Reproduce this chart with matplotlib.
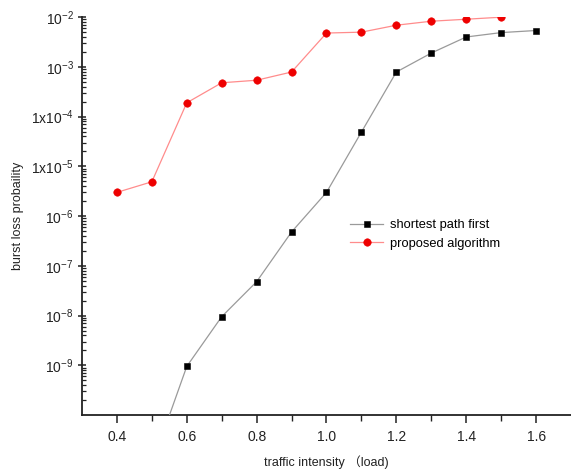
import matplotlib
matplotlib.use("Agg")
import matplotlib.pyplot as plt
from matplotlib.ticker import FixedLocator, FuncFormatter, LogLocator, NullFormatter

# data
load = [0.4, 0.5, 0.6, 0.7, 0.8, 0.9, 1.0, 1.1, 1.2, 1.3, 1.4, 1.5, 1.6]
spf = [None, 1e-11, 9.5e-10, 9.5e-9, 4.8e-8, 4.8e-7, 3.0e-6, 4.9e-5, 7.9e-4, 1.9e-3, 4.0e-3, 4.9e-3, 5.4e-3]
proposed = [3.0e-6, 4.9e-6, 1.9e-4, 4.8e-4, 5.4e-4, 7.9e-4, 4.8e-3, 5.0e-3, 6.9e-3, 8.3e-3, 9.1e-3, 1.0e-2]
ytick_exp = [-9, -8, -7, -6, -5, -4, -3, -2]
xticks = [0.4, 0.6, 0.8, 1.0, 1.2, 1.4, 1.6]

plt.rcParams["font.family"] = ["Liberation Sans", "Noto Sans CJK SC", "DejaVu Sans"]
plt.rcParams["mathtext.default"] = "regular"

fig = plt.figure(figsize=(5.71, 4.75), dpi=100)
ax = fig.add_axes([0.1436, 0.1263, 0.8564, 0.8375])

sx = [x for x, y in zip(load, spf) if y is not None]
sy = [y for y in spf if y is not None]
ax.plot(sx, sy, color="#9a9a9a", lw=0.9, marker="s", ms=4.6, mew=0.4, mfc="black", mec="black",
        label="shortest path first", zorder=3)
ax.plot(load[:len(proposed)], proposed, color="#ff8c8c", lw=0.9, marker="o", ms=5.4, mew=0.4,
        mfc="#ee0000", mec="#ee0000", label="proposed algorithm", zorder=4)

ax.set_yscale("log")
ax.set_xlim(0.3, 1.7)
ax.set_ylim(1e-10, 1e-2)

ax.xaxis.set_major_locator(FixedLocator(xticks))
ax.xaxis.set_minor_locator(FixedLocator([0.5, 0.7, 0.9, 1.1, 1.3, 1.5]))
ax.xaxis.set_major_formatter(FuncFormatter(lambda v, p: f"{v:.1f}"))

ax.yaxis.set_major_locator(FixedLocator([10.0 ** e for e in ytick_exp]))


def yfmt(v, p):
    import math
    e = int(round(math.log10(v)))
    if e in (-4, -5):
        return rf"$1x10^{{{e}}}$"
    return rf"$10^{{{e}}}$"


ax.yaxis.set_major_formatter(FuncFormatter(yfmt))
ax.yaxis.set_minor_locator(LogLocator(base=10, subs=range(2, 10), numticks=20))
ax.yaxis.set_minor_formatter(NullFormatter())

for s in ["top", "right"]:
    ax.spines[s].set_visible(False)
for s in ["left", "bottom"]:
    ax.spines[s].set_linewidth(1.3)
    ax.spines[s].set_color("#222222")

ax.tick_params(axis="x", which="major", direction="out", length=6, width=1.1, labelsize=10,
               colors="#222222", pad=5)
ax.tick_params(axis="x", which="minor", direction="out", length=4, width=1.0, colors="#222222")
ax.tick_params(axis="y", which="major", direction="inout", length=6, width=1.1, labelsize=10,
               colors="#222222", pad=3)
ax.tick_params(axis="y", which="minor", direction="in", length=3, width=0.9, colors="#222222")

ax.set_xlabel("traffic intensity （load)", fontsize=9, color="#222222", labelpad=8)
ax.set_ylabel("burst loss probaility", fontsize=9, color="#222222", labelpad=5)

ax.legend(loc="upper left", bbox_to_anchor=(0.537, 0.505), frameon=False, fontsize=9.3,
          handlelength=2.6, handletextpad=0.5, labelspacing=0.5, borderaxespad=0)

fig.savefig("out.png", dpi=100)
